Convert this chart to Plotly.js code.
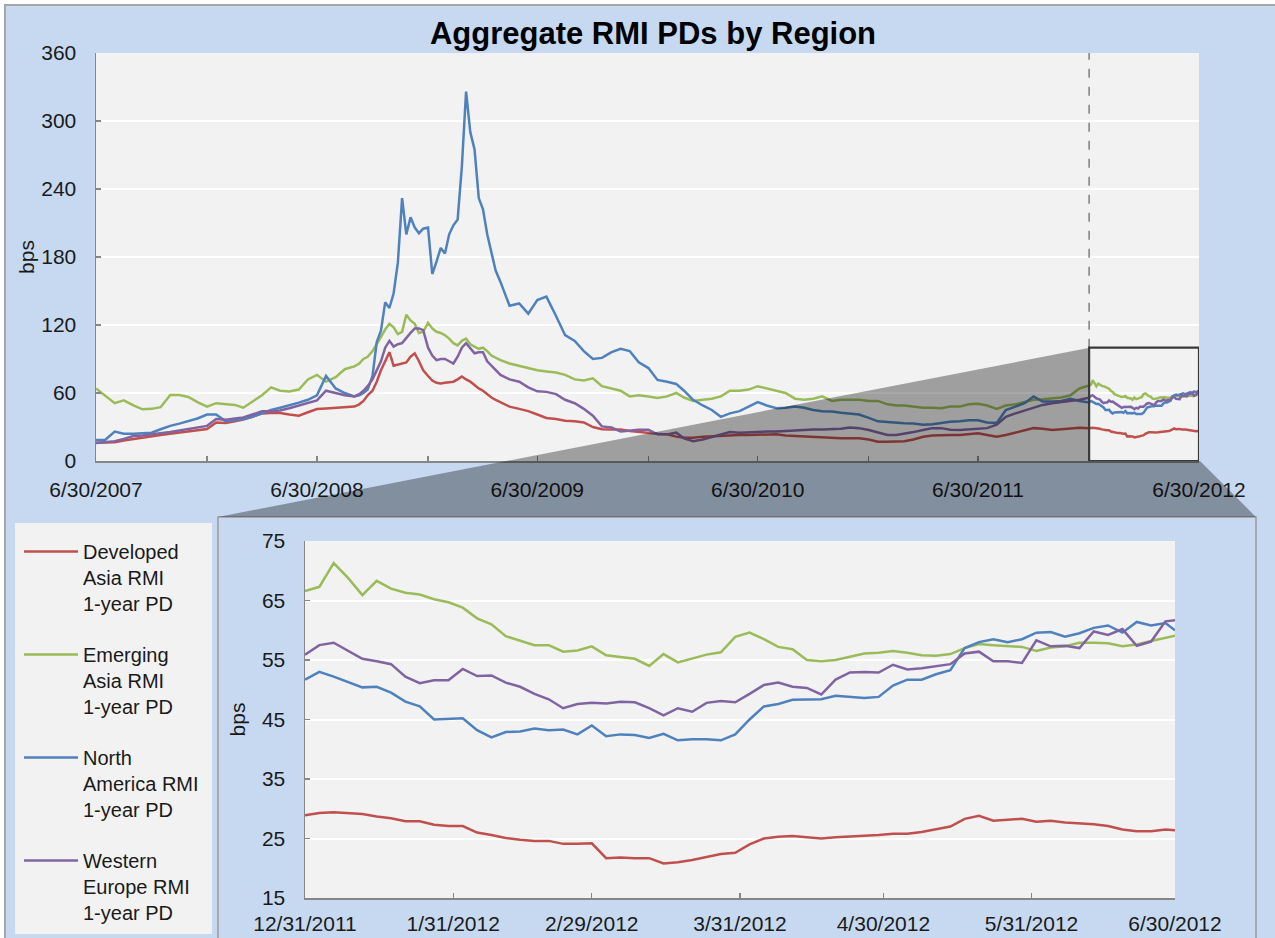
<!DOCTYPE html>
<html>
<head>
<meta charset="utf-8">
<script src="https://cdn.plot.ly/plotly-3.0.1.min.js"></script>
<style>html,body{margin:0;padding:0;background:#fff;}#chart{width:1275px;height:938px;}</style>
</head>
<body>
<div id="chart"></div>
<script>
// ---------- DATA ----------
const seriesNames = [
  'Developed<br>Asia RMI<br>1-year PD',
  'Emerging<br>Asia RMI<br>1-year PD',
  'North<br>America RMI<br>1-year PD',
  'Western<br>Europe RMI<br>1-year PD'
];
const seriesColors = ['#c0504d', '#9bbb59', '#4f81bd', '#8064a2'];

// Full history, 6/30/2007 - 12/15/2011 (bps)
const topDates = [
 '2007-06-30','2007-07-15','2007-07-31','2007-08-15','2007-08-31','2007-09-15','2007-09-30','2007-10-15','2007-10-31','2007-11-15','2007-11-30','2007-12-15','2007-12-31',
 '2008-01-15','2008-01-31','2008-02-15','2008-02-29','2008-03-15','2008-03-31','2008-04-15','2008-04-30','2008-05-15','2008-05-31','2008-06-15','2008-06-30','2008-07-15','2008-07-31','2008-08-15','2008-08-31',
 '2008-09-08','2008-09-15','2008-09-22','2008-09-30','2008-10-07','2008-10-14','2008-10-21','2008-10-28','2008-11-04','2008-11-11','2008-11-18','2008-11-25','2008-12-02','2008-12-09','2008-12-16','2008-12-23','2008-12-31',
 '2009-01-07','2009-01-14','2009-01-21','2009-01-28','2009-02-04','2009-02-11','2009-02-18','2009-02-25','2009-03-04','2009-03-11','2009-03-18','2009-03-25','2009-04-01','2009-04-08','2009-04-15','2009-04-22','2009-04-30',
 '2009-05-15','2009-05-31','2009-06-15','2009-06-30','2009-07-15','2009-07-31','2009-08-15','2009-08-31','2009-09-15','2009-09-30','2009-10-15','2009-10-31','2009-11-15','2009-11-30','2009-12-15','2009-12-31',
 '2010-01-15','2010-01-31','2010-02-15','2010-02-28','2010-03-15','2010-03-31','2010-04-15','2010-04-30','2010-05-15','2010-05-31','2010-06-15','2010-06-30','2010-07-15','2010-07-31','2010-08-15','2010-08-31','2010-09-15','2010-09-30','2010-10-15','2010-10-31','2010-11-15','2010-11-30','2010-12-15','2010-12-31',
 '2011-01-15','2011-01-31','2011-02-15','2011-02-28','2011-03-15','2011-03-31','2011-04-15','2011-04-30','2011-05-15','2011-05-31','2011-06-15','2011-06-30','2011-07-15','2011-07-31','2011-08-15','2011-08-31','2011-09-15','2011-09-30','2011-10-15','2011-10-31','2011-11-15','2011-11-30','2011-12-15'
];
const devAsiaTop = [
 16,16,16.5,18,19.4,20.5,21.8,23,24,25,26,27,28.2,
 34,33.5,35,36.5,39,42,42.3,42.3,41,40,43,45.8,46.3,46.8,47.5,48,
 50,53,58,62,70,80,88,96,84,85,86,87,92,95,88,80,75,71,69,68.5,69,69.5,70,72,74.6,72,70,67,64,62,59,56,54,52,
 48,46,44,41,38,37,35.5,35,34,30,28,27.9,27.9,26.5,25.5,25,
 24,23.5,21.5,20.5,20.5,21.5,22,22.5,23,23,23,23,23.5,23.5,22.5,22,21.5,21,20.5,20,20,20,20,19,
 17,17,17,17.5,19,21.4,22.5,23,23,23,23.5,24.5,23,21.5,23,25,27,29,28.5,27.3,28,28.5,29.3
];
const emAsiaTop = [
 64,58,51,53.5,49,45.6,46,47.5,58.3,58.3,56.5,52,48,
 51,50,49.5,47,52,58,65,62,61.4,63,72,76,70,74,81,83.5,
 86,90,92,97,103,110,116,121,118,112,114,129,124,121,113,114,122,117,114,113,111,108,104,102,106,108,103,101,99,100,97,93,91,89,
 86,84,82,80,79,78,76,72,71,73,66,64,62,57,58,57,
 55.5,57,60,56,53,54,55,57,62,62,63,66,64,62,60,55,54,55,57,53,54,54,54,53,
 53,50,49,49,48,47,47,46.5,48,48,50,50.5,49,46,49,50,52,54,54.5,55,56,58,64
];
const nAmericaTop = [
 18.5,18.5,26,24,24,24.5,25,28,31,33,35,37.5,41,
 41,35,36,37,39,42,45,47,49,51.5,54,58,75,64,60,57,
 58,60,63,75,105,115,140,135,148,175,232,200,215,206,201,205,206,165,176,188,183,200,208,213,260,326,290,275,232,222,200,185,168,158,
 137,139,130,142,145,128,111,106,97,90,91,96,99,97,87,82,
 71.5,70,68,62,54,49,45,39,42,44,48,52,49,46.5,47,48,47,45,44,43.6,42.5,42,41,38,
 35,34.5,33.5,33.2,33,32,32.5,33.5,34.7,35,36,36,34,33.5,45,48,51,57,52.4,52.4,53,55,53
];
const wEuropeTop = [
 15.9,16.5,17.5,19.5,22,22.5,23.3,24.5,25.5,27,28.2,29.5,31,
 37,36.5,37.5,38.5,41,44,44,44.5,46.5,49,51,53.5,62,60,58,57,
 59,62,66,72,80,88,100,106,101,103,104,109,113,117,117,115.5,100,93,89,90,90,88,86,92,100,104,99,95,96,96,88,84,80,76,
 72,70,65,61.5,61,59,54,51,46,40,30.5,29.5,26,27,27.5,27.5,
 23.5,23.5,25,20,17.5,19,21,23,25.5,25,25.5,25.8,26,26,26.5,27.3,27.5,27.8,27.9,28,28.5,29.6,29,27.3,
 25.5,23,23,24,25.5,27.3,29,29,27.5,27.3,28,28.5,29,32,39,42,44.5,47,49.5,51,52,53,54
];

// Zoomed window, 12/31/2011 - 6/30/2012 (bps)
const zoomDates = [
 '2011-12-31','2012-01-03','2012-01-06','2012-01-09','2012-01-12','2012-01-15','2012-01-18','2012-01-21','2012-01-24','2012-01-27','2012-01-30',
 '2012-02-02','2012-02-05','2012-02-08','2012-02-11','2012-02-14','2012-02-17','2012-02-20','2012-02-23','2012-02-26','2012-02-29',
 '2012-03-03','2012-03-06','2012-03-09','2012-03-12','2012-03-15','2012-03-18','2012-03-21','2012-03-24','2012-03-27','2012-03-30',
 '2012-04-02','2012-04-05','2012-04-08','2012-04-11','2012-04-14','2012-04-17','2012-04-20','2012-04-23','2012-04-26','2012-04-29',
 '2012-05-02','2012-05-05','2012-05-08','2012-05-11','2012-05-14','2012-05-17','2012-05-20','2012-05-23','2012-05-26','2012-05-29',
 '2012-06-01','2012-06-04','2012-06-07','2012-06-10','2012-06-13','2012-06-16','2012-06-19','2012-06-22','2012-06-25','2012-06-28','2012-06-30'
];
const devAsiaZoom = [28.9,29.3,29.4,29.2,29.1,28.7,28.4,27.9,27.9,27.3,27.1,27.1,26.0,25.6,25.1,24.8,24.6,24.6,24.1,24.1,24.2,21.7,21.8,21.7,21.7,20.8,21.0,21.4,21.9,22.4,22.6,24.0,25.0,25.3,25.4,25.2,25.0,25.2,25.3,25.4,25.6,25.8,25.8,26.1,26.5,27.0,28.3,28.8,28.0,28.2,28.3,27.8,28.0,27.7,27.6,27.4,27.1,26.5,26.2,26.2,26.5,26.4];
const emAsiaZoom = [66.6,67.3,71.3,68.8,65.9,68.3,67.0,66.3,66.0,65.2,64.7,63.8,62.0,61.0,59.0,58.3,57.5,57.5,56.4,56.6,57.3,55.8,55.5,55.2,54.0,56.0,54.6,55.2,55.9,56.3,58.9,59.6,58.5,57.2,56.8,55.0,54.8,55.0,55.5,56.1,56.2,56.5,56.2,55.8,55.7,56.0,57.0,57.7,57.5,57.3,57.2,56.5,57.1,57.3,57.9,57.9,57.8,57.3,57.6,58.2,58.8,59.1];
const nAmericaZoom = [51.7,53.0,52.2,51.3,50.4,50.5,49.5,48.0,47.2,45.0,45.1,45.2,43.2,42.0,42.9,43.0,43.5,43.2,43.3,42.5,44.0,42.2,42.5,42.4,41.9,42.6,41.5,41.7,41.7,41.5,42.5,45.0,47.2,47.6,48.3,48.4,48.4,49.0,48.8,48.6,48.8,50.7,51.7,51.7,52.6,53.3,57.0,58.0,58.5,58.0,58.5,59.6,59.7,58.9,59.5,60.4,60.8,59.6,61.4,60.8,61.2,60.0];
const wEuropeZoom = [55.9,57.5,57.9,56.5,55.2,54.8,54.3,52.2,51.1,51.6,51.6,53.5,52.3,52.4,51.2,50.5,49.3,48.4,46.9,47.6,47.8,47.7,48.0,47.9,46.9,45.7,46.9,46.3,47.8,48.1,47.9,49.3,50.8,51.2,50.5,50.3,49.2,51.7,52.9,53.0,52.9,54.2,53.4,53.6,54.0,54.3,56.1,56.4,54.8,54.8,54.5,58.3,57.3,57.4,57.0,59.8,59.2,60.2,57.4,58.1,61.5,61.7];

const topTickVals = ['2007-06-30','2007-12-31','2008-06-30','2008-12-31','2009-06-30','2009-12-31','2010-06-30','2010-12-31','2011-06-30','2011-12-31','2012-06-30'];
const topTickText = ['6/30/2007','','6/30/2008','','6/30/2009','','6/30/2010','','6/30/2011','','6/30/2012'];
const zoomTickVals = ['2011-12-31','2012-01-31','2012-02-29','2012-03-31','2012-04-30','2012-05-31','2012-06-30'];
const zoomTickText = ['12/31/2011','1/31/2012','2/29/2012','3/31/2012','4/30/2012','5/31/2012','6/30/2012'];
const zoomStart = '2011-12-31', zoomEnd = '2012-06-30', zoomTop = 100;

// ---------- CHART ----------
const W = 1275, H = 938;
const px = x => x / W, py = y => 1 - y / H;
const FONT = 'Liberation Sans, Arial, sans-serif';
const TXT = '#1a1a1a';
const AX = '#868686';

const topSeries = [devAsiaTop, emAsiaTop, nAmericaTop, wEuropeTop];
const zoomSeries = [devAsiaZoom, emAsiaZoom, nAmericaZoom, wEuropeZoom];
const traces = [];
for (let i = 0; i < 4; i++) {
  traces.push({
    type: 'scatter', mode: 'lines', name: seriesNames[i], legendgroup: 'g' + i,
    x: topDates.concat(zoomDates), y: topSeries[i].concat(zoomSeries[i]),
    xaxis: 'x', yaxis: 'y', line: {color: seriesColors[i], width: 2.5}, hoverinfo: 'skip'
  });
}
for (let i = 0; i < 4; i++) {
  traces.push({
    type: 'scatter', mode: 'lines', name: seriesNames[i], legendgroup: 'g' + i, showlegend: false,
    x: zoomDates, y: zoomSeries[i],
    xaxis: 'x2', yaxis: 'y2', line: {color: seriesColors[i], width: 2.5}, hoverinfo: 'skip'
  });
}

const axBase = {
  showline: true, linecolor: AX, linewidth: 1.5, ticks: 'inside', ticklen: 5, tickcolor: AX, tickwidth: 1.2,
  zeroline: false, fixedrange: true, tickfont: {family: FONT, size: 21, color: TXT}
};

const layout = {
  width: W, height: H, margin: {l: 0, r: 0, t: 0, b: 0},
  paper_bgcolor: '#c6d9f1', plot_bgcolor: '#f2f2f2',
  font: {family: FONT, size: 21, color: TXT},
  title: {text: 'Aggregate RMI PDs by Region', font: {family: FONT, size: 31, color: '#000', weight: 700},
          x: px(653), xanchor: 'center', xref: 'paper', y: py(33), yanchor: 'middle', yref: 'paper'},
  showlegend: true,
  legend: {x: px(19), y: py(532), xanchor: 'left', yanchor: 'top', bgcolor: 'rgba(0,0,0,0)', borderwidth: 0,
           font: {family: FONT, size: 20, color: TXT}, valign: 'top', traceorder: 'grouped', tracegroupgap: 22, itemwidth: 54},
  xaxis: Object.assign({}, axBase, {type: 'date', domain: [px(96), px(1199)], anchor: 'y', range: ['2007-06-30', '2012-06-30'],
          tickmode: 'array', tickvals: topTickVals, ticktext: topTickText, showgrid: false, ticklabelstandoff: 9}),
  yaxis: Object.assign({}, axBase, {domain: [py(461), py(53)], anchor: 'x', range: [0, 360], tickmode: 'linear', tick0: 0, dtick: 60,
          showgrid: true, gridcolor: '#ffffff', gridwidth: 2, ticklabelstandoff: 14,
          title: {text: 'bps', font: {family: FONT, size: 21, color: TXT}, standoff: 1}}),
  xaxis2: Object.assign({}, axBase, {type: 'date', domain: [px(305), px(1175)], anchor: 'y2', range: [zoomStart, zoomEnd],
          tickmode: 'array', tickvals: zoomTickVals, ticktext: zoomTickText, showgrid: false, ticklabelstandoff: 6}),
  yaxis2: Object.assign({}, axBase, {domain: [py(898), py(541)], anchor: 'x2', range: [15, 75], tickmode: 'linear', tick0: 15, dtick: 10,
          showgrid: true, gridcolor: '#ffffff', gridwidth: 2, ticklabelstandoff: 14,
          title: {text: 'bps', font: {family: FONT, size: 21, color: TXT}, standoff: 10}}),
  shapes: [
    // outer white margin + frame
    {type: 'rect', xref: 'paper', yref: 'paper', x0: 0, x1: 1, y0: py(0), y1: py(5), fillcolor: '#ffffff', line: {width: 0}, layer: 'above'},
    {type: 'rect', xref: 'paper', yref: 'paper', x0: 0, x1: px(5), y0: 0, y1: 1, fillcolor: '#ffffff', line: {width: 0}, layer: 'above'},
    {type: 'path', xref: 'paper', yref: 'paper', path: `M ${px(5)},0 L ${px(5)},${py(5)} L 1.01,${py(5)}`, line: {color: '#a6a6a6', width: 2}, layer: 'above'},
    // legend box
    {type: 'rect', xref: 'paper', yref: 'paper', x0: px(15), x1: px(212), y0: py(934), y1: py(523), fillcolor: '#f2f2f2', line: {width: 0}, layer: 'below'},
    // lower panel frame
    {type: 'rect', xref: 'paper', yref: 'paper', x0: px(218), x1: px(1256), y0: -0.02, y1: py(517), fillcolor: 'rgba(0,0,0,0)', line: {color: '#9a9a9a', width: 1.5}, layer: 'above'},
    // zoom projection
    {type: 'path', xref: 'paper', yref: 'paper',
     path: `M ${px(1089.7)},${py(347.7)} L ${px(218)},${py(517)} L ${px(1256)},${py(517)} L ${px(1200)},${py(461)} L ${px(1089.7)},${py(461)} Z`,
     fillcolor: 'rgba(0,0,0,0.34)', line: {width: 0}, layer: 'above'},
    // dashed marker
    {type: 'line', xref: 'x', yref: 'y', x0: zoomStart, x1: zoomStart, y0: zoomTop, y1: 360, line: {color: '#7f7f7f', width: 1.5, dash: 'dash'}, layer: 'above'},
    // zoom box
    {type: 'rect', xref: 'x', yref: 'y', x0: zoomStart, x1: zoomEnd, y0: 0, y1: zoomTop, fillcolor: 'rgba(0,0,0,0)', line: {color: '#3a3a3a', width: 2.2}, layer: 'above'}
  ]
};

Plotly.newPlot('chart', traces, layout, {staticPlot: true, displayModeBar: false});
</script>
</body>
</html>
